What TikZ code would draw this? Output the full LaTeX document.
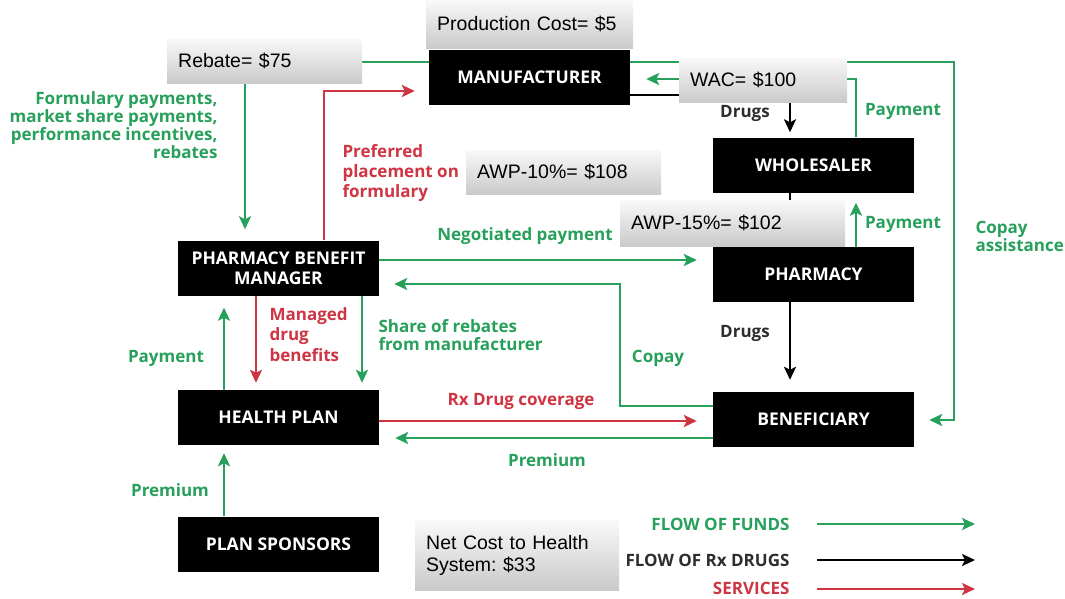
\documentclass[tikz,border=0pt]{standalone}
\usepackage{fontspec}
\setmainfont{Liberation Sans}
\newfontfamily\labelfont{Open Sans}
\usetikzlibrary{arrows.meta}
\definecolor{fundgreen}{RGB}{38,160,90}
\definecolor{servred}{RGB}{206,52,66}
\definecolor{druggray}{RGB}{45,45,45}

\begin{document}
\begin{tikzpicture}[x=1pt, y=-1pt,
    blackbox/.style={fill=black, text=white, minimum width=201pt, minimum height=55pt,
        font=\labelfont\bfseries\fontsize{17.5}{20}\selectfont, align=center},
    pricebox/.style={top color=gray!5, bottom color=gray!42, anchor=north west,
        inner xsep=11pt, inner ysep=0pt, align=left, font=\fontsize{19.5}{22}\selectfont\frenchspacing},
    tip/.style={-{Stealth[length=13pt,width=12pt,inset=3pt]}},
    fund/.style={tip, draw=fundgreen, line width=2.6pt},
    serv/.style={tip, draw=servred, line width=2.6pt},
    drug/.style={tip, draw=black, line width=2.2pt},
    lbl/.style={font=\labelfont\bfseries\fontsize{17}{18}\selectfont},
    greenlbl/.style={lbl, text=fundgreen},
    redlbl/.style={lbl, text=servred},
    druglbl/.style={lbl, text=druggray},
]
    \useasboundingbox (0,0) rectangle (1065,598);

    % players
    \node (mfr) at (529.5,77) [blackbox] {MANUFACTURER};
    \node (whl) at (813.5,165) [blackbox] {WHOLESALER};
    \node (phm) at (813.5,274.5) [blackbox] {PHARMACY};
    \node (ben) at (813.5,419.5) [blackbox] {BENEFICIARY};
    \node (pbm) at (278.5,268) [blackbox] {PHARMACY BENEFIT\\MANAGER};
    \node (hp) at (278.5,417.5) [blackbox] {HEALTH PLAN};
    \node (ps) at (278.5,544) [blackbox] {PLAN SPONSORS};

    % flows
    \draw [fund, shorten >=11pt] (mfr.west |- 0,62) -| (pbm.north -| 245,0);
    \draw [serv, shorten >=14pt] (pbm.north -| 324,0) |- (mfr.west |- 0,91);
    \draw [fund, shorten >=15pt] (mfr.east |- 0,62) -- (954,62) -- (954,420) -- (ben.east |- 0,420);
    \draw [fund, shorten >=16pt] (whl.north -| 856,0) |- (mfr.east |- 0,79);
    \draw [drug, shorten >=5pt] (mfr.east |- 0,95) -| (whl.north -| 790,0);
    \draw [fund, shorten >=10pt] (phm.north -| 856,0) -- (whl.south -| 856,0);
    \draw [draw=black, line width=2.2pt] (whl.south -| 790,0) -- (phm.north -| 790,0);
    \draw [fund, shorten >=16pt] (pbm.east |- 0,260) -- (phm.west |- 0,260);
    \draw [fund, shorten >=15pt] (ben.west |- 0,406) -| (620,284) -- (pbm.east |- 0,284);
    \draw [drug, shorten >=12pt] (phm.south -| 790,0) -- (ben.north -| 790,0);
    \draw [fund, shorten >=12pt] (hp.north -| 224,0) -- (pbm.south -| 224,0);
    \draw [serv, shorten >=7pt] (pbm.south -| 256,0) -- (hp.north -| 256,0);
    \draw [fund, shorten >=7pt] (pbm.south -| 362,0) -- (hp.north -| 362,0);
    \draw [serv, shorten >=16pt] (hp.east |- 0,421) -- (ben.west |- 0,421);
    \draw [fund, shorten >=16pt] (ben.west |- 0,438) -- (hp.east |- 0,438);
    \draw [fund, shorten >=8pt] (ps.north -| 224,0) -- (hp.south -| 224,0);

    % prices
    \node (prod) at (426,0) [pricebox, text width=185pt, minimum height=48pt] {Production Cost= \$5};
    \node (rebate) at (167,39) [pricebox, text width=173pt, minimum height=44pt] {Rebate= \$75};
    \node (wac) at (679,58) [pricebox, text width=146pt, minimum height=44pt] {WAC= \$100};
    \node (awp10) at (466,150) [pricebox, text width=173pt, minimum height=44pt] {AWP-10\%= \$108};
    \node (awp15) at (620,200) [pricebox, text width=203pt, minimum height=46pt] {AWP-15\%= \$102};
    \node (net) at (415,520) [pricebox, text width=182pt, minimum height=70pt,
        font=\fontsize{19.5}{22.5}\selectfont\frenchspacing] {Net Cost to Health\\System: \$33};

    % labels
    \node (formlbl) at (221,88) [greenlbl, anchor=north east, align=right]
        {Formulary payments,\\market share payments,\\performance incentives,\\rebates};
    \node (preflbl) at (339,141) [redlbl, anchor=north west, align=left, font=\labelfont\bfseries\fontsize{17}{20}\selectfont]
        {Preferred\\placement on\\formulary};
    \node (drugs1) at (745,113) [druglbl] {Drugs};
    \node (pay1) at (903,111) [greenlbl] {Payment};
    \node (pay2) at (903,224) [greenlbl] {Payment};
    \node (copayast) at (972,236) [greenlbl, anchor=west, align=left] {Copay\\assistance};
    \node (negpay) at (525,236) [greenlbl] {Negotiated payment};
    \node (mgdlbl) at (266,304) [redlbl, anchor=north west, align=left, font=\labelfont\bfseries\fontsize{17}{20.5}\selectfont]
        {Managed\\drug\\benefits};
    \node (sharelbl) at (375,335) [greenlbl, anchor=west, align=left] {Share of rebates\\from manufacturer};
    \node (pay3) at (166,358) [greenlbl] {Payment};
    \node (copay) at (658,358) [greenlbl] {Copay};
    \node (drugs2) at (745,333) [druglbl] {Drugs};
    \node (rxcov) at (521,401) [redlbl] {Rx Drug coverage};
    \node (prem1) at (547,460) [greenlbl] {Premium};
    \node (prem2) at (170,490) [greenlbl] {Premium};

    % legend
    \coordinate (fund-s) at (817,524);
    \coordinate (fund-e) at (975,524);
    \coordinate (drug-s) at (817,560);
    \coordinate (drug-e) at (975,560);
    \coordinate (serv-s) at (817,589);
    \coordinate (serv-e) at (975,589);
    \draw [fund] (fund-s) -- (fund-e);
    \draw [drug] (drug-s) -- (drug-e);
    \draw [serv] (serv-s) -- (serv-e);
    \node (fundlbl) at (793,524) [greenlbl, anchor=east] {FLOW OF FUNDS};
    \node (druglbl) at (793,560) [druglbl, anchor=east] {FLOW OF Rx DRUGS};
    \node (servlbl) at (793,588) [redlbl, anchor=east] {SERVICES};
\end{tikzpicture}
\end{document}
